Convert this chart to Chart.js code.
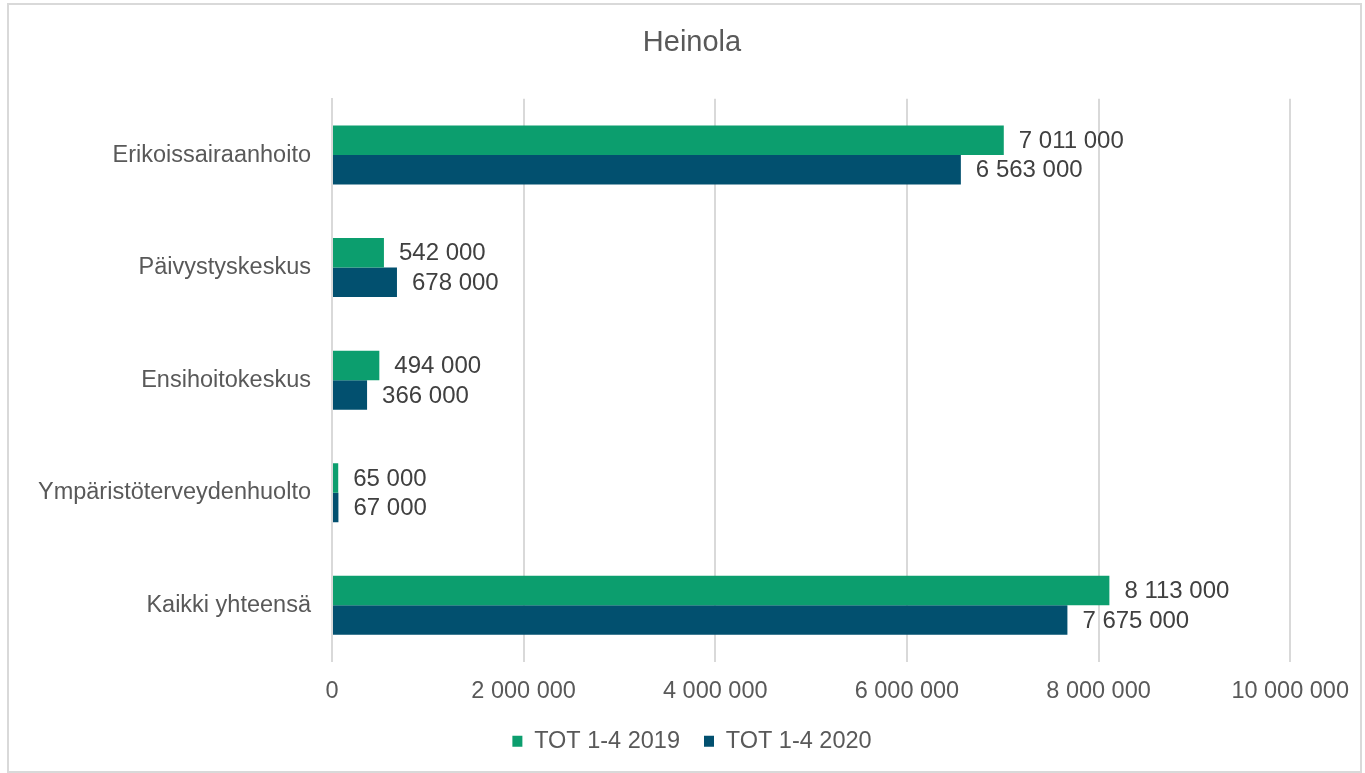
<!DOCTYPE html>
<html>
<head>
<meta charset="utf-8">
<title>Heinola</title>
<script src="https://cdn.jsdelivr.net/npm/chart.js@4"></script>
<style>
  html, body { margin: 0; padding: 0; background: #fff; }
  .wrap { position: relative; width: 1365px; height: 773px; }
  .frame {
    position: absolute; left: 7px; top: 3px; width: 1351px; height: 766px;
    border: 2px solid #d9d9d9; pointer-events: none;
  }
</style>
</head>
<body>
<div class="wrap">
  <canvas id="barChart" width="1365" height="773"></canvas>
  <div class="frame"></div>
</div>
<script>
// ===== Data =====
const categories = ["Erikoissairaanhoito", "Päivystyskeskus", "Ensihoitokeskus", "Ympäristöterveydenhuolto", "Kaikki yhteensä"];
const values2019 = [7011000, 542000, 494000, 65000, 8113000];
const values2020 = [6563000, 678000, 366000, 67000, 7675000];
const xTicks = [0, 2000000, 4000000, 6000000, 8000000, 10000000];

const textColor = "#595959";
const fontFamily = "'Liberation Sans', Arial, sans-serif";

function fmt(v) {
  return String(v).replace(/\B(?=(\d{3})+(?!\d))/g, " ");
}

// ===== Bar-end value labels =====
const valueLabels = {
  id: "valueLabels",
  afterDatasetsDraw(chart) {
    const ctx = chart.ctx;
    ctx.save();
    ctx.font = "24px " + fontFamily;
    ctx.fillStyle = "#404040";
    ctx.textBaseline = "middle";
    ctx.textAlign = "left";
    chart.data.datasets.forEach((ds, i) => {
      chart.getDatasetMeta(i).data.forEach((bar, j) => {
        ctx.fillText(fmt(ds.data[j]), bar.x + 15, bar.y + 1);
      });
    });
    ctx.restore();
  },
};

document.addEventListener("DOMContentLoaded", () => {
  const ctx = document.getElementById("barChart").getContext("2d");
  new Chart(ctx, {
    type: "bar",
    data: {
      labels: categories,
      datasets: [
        {
          label: "TOT 1-4 2019",
          data: values2019,
          backgroundColor: "#0c9e6e",
          categoryPercentage: 0.524,
          barPercentage: 1,
        },
        {
          label: "TOT 1-4 2020",
          data: values2020,
          backgroundColor: "#02506f",
          categoryPercentage: 0.524,
          barPercentage: 1,
        },
      ],
    },
    options: {
      indexAxis: "y",
      responsive: false,
      animation: false,
      layout: { padding: { left: 25, right: 6, top: 0, bottom: 10 } },
      plugins: {
        title: {
          display: true,
          text: "Heinola",
          color: textColor,
          font: { family: fontFamily, size: 29, weight: "normal" },
          padding: { top: 26, bottom: 38 },
        },
        legend: {
          position: "bottom",
          labels: {
            color: textColor,
            font: { family: fontFamily, size: 23.5 },
            boxWidth: 10,
            boxHeight: 11,
            padding: 24,
          },
        },
        tooltip: { enabled: false },
      },
      scales: {
        x: {
          min: 0,
          max: 10000000,
          afterBuildTicks: (axis) => {
            axis.ticks = xTicks.map((v) => ({ value: v }));
          },
          afterFit: (axis) => {
            axis.height = 44;
          },
          ticks: {
            color: textColor,
            font: { family: fontFamily, size: 23.5 },
            padding: 16,
            maxRotation: 0,
            callback: (v) => fmt(v),
          },
          grid: { color: "#d9d9d9", lineWidth: 2, drawTicks: false },
          border: { display: false },
        },
        y: {
          afterFit: (axis) => {
            axis.width = 307;
          },
          ticks: {
            color: textColor,
            font: { family: fontFamily, size: 23.5 },
            padding: 21,
          },
          grid: { display: false, drawTicks: false },
          border: { color: "#d9d9d9", width: 2 },
        },
        // empty right-hand spacer so the title and legend sit centred like the original
        spacer: {
          type: "linear",
          position: "right",
          afterFit: (axis) => {
            axis.width = 67;
          },
          ticks: { display: false },
          grid: { display: false, drawTicks: false },
          border: { display: false },
        },
      },
    },
    plugins: [valueLabels],
  });
});
</script>
</body>
</html>
